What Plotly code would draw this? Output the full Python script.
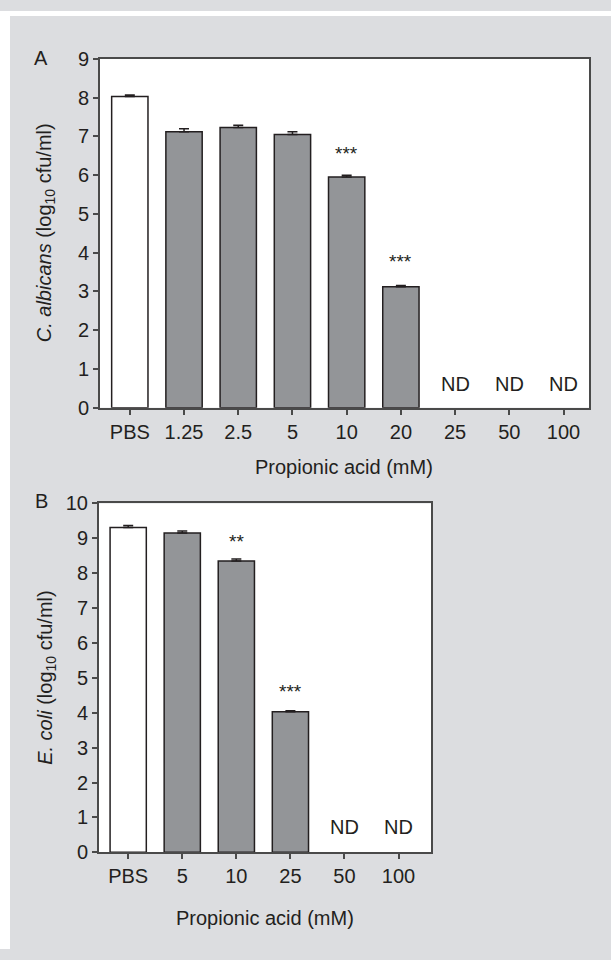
import plotly.graph_objects as go

# ---------------- data ----------------
a_cats = ["PBS", "1.25", "2.5", "5", "10", "20", "25", "50", "100"]
a_vals = [8.03, 7.12, 7.23, 7.05, 5.95, 3.12, None, None, None]
a_err = [0.04, 0.08, 0.06, 0.07, 0.05, 0.03, 0, 0, 0]
a_sig_cats = ["10", "20"]
a_sig_text = ["***", "***"]
a_sig_y = [6.55, 3.76]
a_nd = ["25", "50", "100"]

b_cats = ["PBS", "5", "10", "25", "50", "100"]
b_vals = [9.31, 9.15, 8.35, 4.03, None, None]
b_err = [0.06, 0.06, 0.06, 0.03, 0, 0]
b_sig_cats = ["10", "25"]
b_sig_text = ["**", "***"]
b_sig_y = [8.9, 4.6]
b_nd = ["50", "100"]

W, H = 611, 960
FONT = "Liberation Sans, Arial, sans-serif"
DARK = "#231f20"
AXC = "#4a4a4a"
GRAY = "#939598"
BG = "#dcdde0"
FS = 20


def px_x(x):
    return x / W


def px_y(y):
    return 1 - y / H


def colors(cats):
    return ["white" if c == "PBS" else GRAY for c in cats]


fig = go.Figure()
for cats, vals, err, xa, ya in [
    (a_cats, a_vals, a_err, "x", "y"),
    (b_cats, b_vals, b_err, "x2", "y2"),
]:
    fig.add_trace(go.Bar(
        x=cats, y=vals, width=0.67,
        marker=dict(color=colors(cats), line=dict(color=DARK, width=1.5)),
        error_y=dict(type="data", symmetric=False, array=err,
                     arrayminus=[0] * len(err), color=DARK, thickness=1.5, width=5),
        xaxis=xa, yaxis=ya, showlegend=False,
    ))

axis_common = dict(
    showline=True, mirror=True, linecolor=AXC, linewidth=2,
    ticks="outside", ticklen=5, tickwidth=1.5, tickcolor=AXC,
    showgrid=False, zeroline=False,
    tickfont=dict(family=FONT, size=FS, color=DARK),
)

fig.update_layout(
    width=W, height=H,
    margin=dict(l=0, r=0, t=0, b=0),
    paper_bgcolor=BG, plot_bgcolor="white",
    xaxis=dict(axis_common, type="category", range=[-0.55, 8.47],
               domain=[px_x(100), px_x(589)], anchor="y"),
    yaxis=dict(axis_common, range=[0, 9], dtick=1,
               domain=[px_y(406), px_y(49)], anchor="x"),
    xaxis2=dict(axis_common, type="category", range=[-0.54, 5.6],
                domain=[px_x(99), px_x(431)], anchor="y2"),
    yaxis2=dict(axis_common, range=[0, 10], dtick=1,
                domain=[px_y(861), px_y(504)], anchor="x2"),
    shapes=[
        dict(type="rect", xref="paper", yref="paper", x0=0, x1=px_x(10), y0=0, y1=1,
             fillcolor="white", line=dict(width=0), layer="below"),
        dict(type="rect", xref="paper", yref="paper", x0=0, x1=1, y0=px_y(5), y1=1,
             fillcolor="white", line=dict(width=0), layer="below"),
    ],
)

ann = []


def txt(**kw):
    d = dict(showarrow=False, xanchor="center", yanchor="middle",
             font=dict(family=FONT, size=FS, color=DARK))
    d.update(kw)
    return d


# significance stars and ND labels (category index positions)
for cats, sc, st, sy, nd, ndy, xr, yr in [
    (a_cats, a_sig_cats, a_sig_text, a_sig_y, a_nd, 0.6, "x", "y"),
    (b_cats, b_sig_cats, b_sig_text, b_sig_y, b_nd, 0.73, "x2", "y2"),
]:
    for c, s, yv in zip(sc, st, sy):
        ann.append(txt(x=cats.index(c), y=yv, xref=xr, yref=yr, text=s,
                       font=dict(family=FONT, size=19, color=DARK)))
    for c in nd:
        ann.append(txt(x=cats.index(c), y=ndy, xref=xr, yref=yr, text="ND"))

# panel letters
ann.append(txt(x=px_x(41), y=px_y(48), xref="paper", yref="paper", text="A"))
ann.append(txt(x=px_x(41), y=px_y(502), xref="paper", yref="paper", text="B"))

# axis titles
ann.append(txt(x=px_x(45), y=px_y(227.5), xref="paper", yref="paper",
               text="<i>C. albicans</i> (log<sub>10</sub> cfu/ml)", textangle=-90))
ann.append(txt(x=px_x(47), y=px_y(682.5), xref="paper", yref="paper",
               text="<i>E. coli</i> (log<sub>10</sub> cfu/ml)", textangle=-90))
ann.append(txt(x=px_x(344), y=px_y(467), xref="paper", yref="paper",
               text="Propionic acid (mM)"))
ann.append(txt(x=px_x(265), y=px_y(928), xref="paper", yref="paper",
               text="Propionic acid (mM)"))

fig.update_layout(annotations=ann)
fig.write_html("out.html")
